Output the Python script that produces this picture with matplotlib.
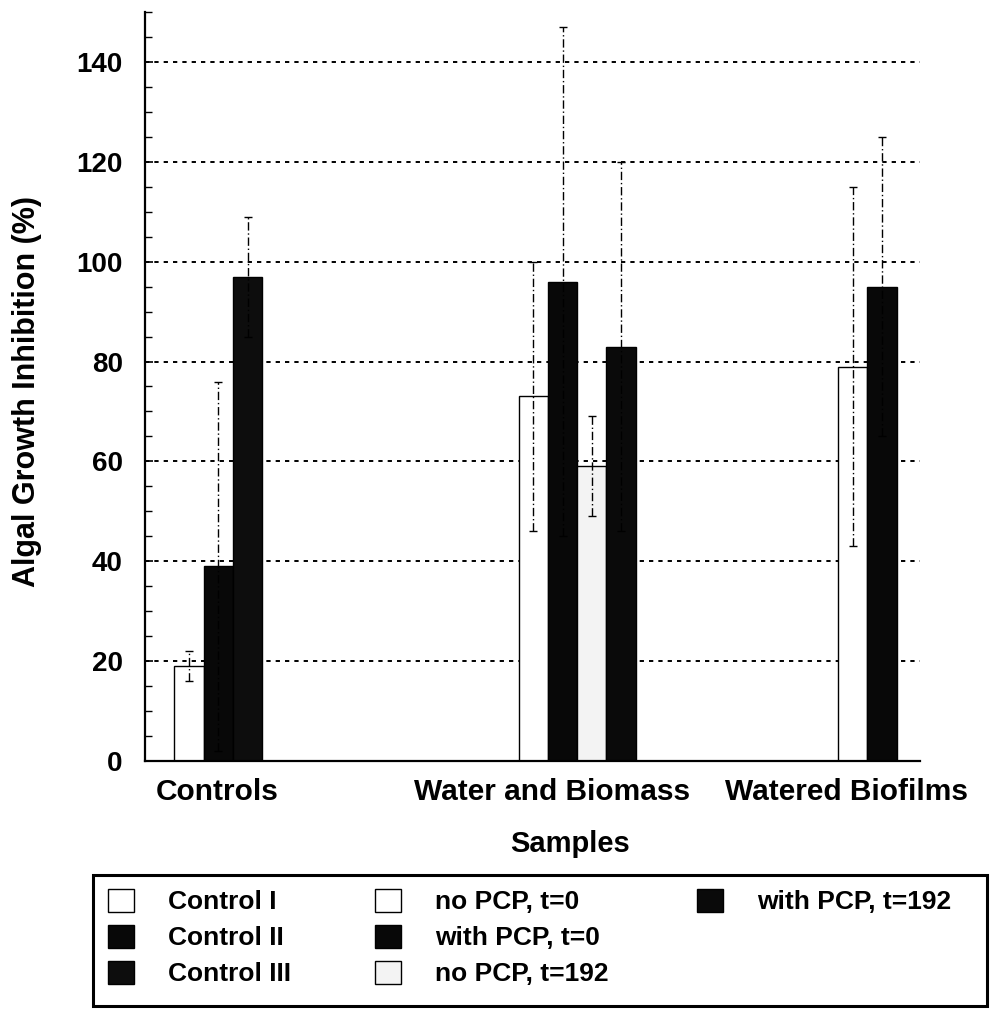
import matplotlib.pyplot as plt
import matplotlib.transforms as mtransforms
import numpy as np
from matplotlib.patches import Patch, Rectangle
from matplotlib.ticker import MultipleLocator

plt.rcParams['font.family'] = ['Liberation Sans', 'DejaVu Sans']
plt.rcParams['font.weight'] = 'bold'

# data
categories = ['Controls', 'Water and Biomass', 'Watered Biofilms']

control_names = ['Control I', 'Control II', 'Control III']
control_vals = [19, 39, 97]
control_err = [3, 37, 12]

water_names = ['no PCP, t=0', 'with PCP, t=0', 'no PCP, t=192', 'with PCP, t=192']
water_vals = [73, 96, 59, 83]
water_err = [27, 51, 10, 37]

biofilm_names = ['no PCP, t=0', 'with PCP, t=0']
biofilm_vals = [79, 95]
biofilm_err = [36, 30]

# styles per series
face = {'Control I': 'white', 'Control II': '#080808', 'Control III': '#0d0d0d',
        'no PCP, t=0': 'white', 'with PCP, t=0': '#080808',
        'no PCP, t=192': '#f3f3f3', 'with PCP, t=192': '#0a0a0a'}

# layout (bar width = 1 data unit)
first_bar = [1.5, 13.25, 24.15]
tick_pos = [2.45, 13.9, 23.95]

W, H = 997, 1010
fig = plt.figure(figsize=(W / 100, H / 100), dpi=100)
ax = fig.add_axes([145 / W, 1 - 761 / H, 775 / W, 749 / H])

groups = [(control_names, control_vals, control_err),
          (water_names, water_vals, water_err),
          (biofilm_names, biofilm_vals, biofilm_err)]

for g, (names, vals, errs) in enumerate(groups):
    xs = first_bar[g] + np.arange(len(vals))
    for x, n, v, e in zip(xs, names, vals, errs):
        ax.bar(x, v, width=1.0, color=face[n], edgecolor='black', linewidth=1.0, zorder=2)
        eb = ax.errorbar(x, v, yerr=e, fmt='none', ecolor='black', elinewidth=1.0,
                         capsize=3, capthick=1.0, zorder=3)
        eb[2][0].set_linestyle((0, (6, 2, 1, 2)))

ax.set_xlim(0, 26.45)
ax.set_ylim(0, 150)
ax.yaxis.set_minor_locator(MultipleLocator(5))
ax.set_yticks(np.arange(0, 141, 20))
ax.set_xticks(tick_pos)
ax.set_xticklabels(categories, fontsize=21.5, fontweight='bold')
shift = mtransforms.ScaledTranslation(0, -7 / 100, fig.dpi_scale_trans)
for lab in ax.get_yticklabels():
    lab.set_fontsize(20)
    lab.set_fontweight('bold')
    lab.set_transform(lab.get_transform() + shift)
ax.tick_params(axis='x', length=0, pad=12)
ax.tick_params(axis='y', which='major', direction='in', length=6, width=1.2, pad=16)
ax.tick_params(axis='y', which='minor', direction='in', length=5, width=1.0)

for yv in range(20, 141, 20):
    ax.axhline(yv, color='black', linewidth=1.4, linestyle=(0, (2.2, 2.6)), zorder=1)

ax.spines['top'].set_visible(False)
ax.spines['right'].set_visible(False)
ax.spines['left'].set_linewidth(1.6)
ax.spines['bottom'].set_linewidth(1.6)

ax.set_ylabel('Algal Growth Inhibition (%)', fontsize=22, fontweight='bold')
ax.yaxis.set_label_coords(-0.133, 0.493)
ax.set_xlabel('Samples', fontsize=21, fontweight='bold')
ax.xaxis.set_label_coords(0.548, -0.092)

# legend: three columns in one black frame
fig.add_artist(Rectangle((93 / W, 1 - 1006 / H), 894 / W, 131 / H,
                         transform=fig.transFigure, facecolor='none',
                         edgecolor='black', linewidth=2.2))
columns = [control_names, water_names[:3], water_names[3:]]
col_left = [108, 375, 697]
for names, x0 in zip(columns, col_left):
    handles = [Patch(facecolor=face[n], edgecolor='black', linewidth=1.0) for n in names]
    leg = fig.legend(handles, names, loc='upper left',
                     bbox_to_anchor=(x0 / W, 1 - 889 / H),
                     fontsize=19, handlelength=0.98, handleheight=0.95,
                     handletextpad=1.29, labelspacing=0.4, borderpad=0,
                     borderaxespad=0, frameon=False)
    for t in leg.get_texts():
        t.set_fontweight('bold')

fig.savefig('out.png', dpi=100)
